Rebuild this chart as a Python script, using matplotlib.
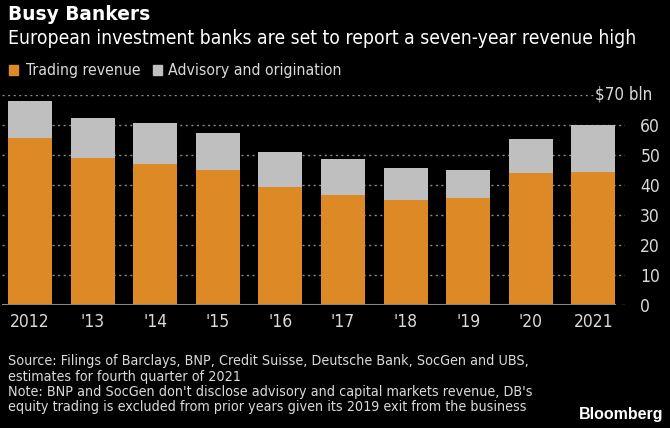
import matplotlib
matplotlib.use("Agg")
import matplotlib.pyplot as plt
from matplotlib.patches import Rectangle

years = ["2012", "'13", "'14", "'15", "'16", "'17", "'18", "'19", "'20", "2021"]
trading = [55.6, 48.9, 46.9, 45.0, 39.3, 36.6, 34.9, 35.6, 44.0, 44.4]
total = [68.1, 62.2, 60.8, 57.2, 50.9, 48.8, 45.7, 45.0, 55.4, 59.9]
advisory = [t - tr for t, tr in zip(total, trading)]
yticks = [0, 10, 20, 30, 40, 50, 60]

ORANGE = "#DD8A26"
GRAY = "#BFBFBF"
TXT = "#DADADA"
plt.rcParams["font.family"] = ["DejaVu Sans"]

W, H = 670, 428
fig = plt.figure(figsize=(W / 100, H / 100), dpi=100, facecolor="black")
ax = fig.add_axes([2 / W, 1 - 305 / H, (625 - 2) / W, (305 - 95) / H], facecolor="black")

x = list(range(len(years)))
ax.bar(x, trading, width=0.70, color=ORANGE, zorder=3)
ax.bar(x, advisory, bottom=trading, width=0.70, color=GRAY, zorder=3)

sp = 62.6
ax.set_xlim((2 - 30) / sp, (625 - 30) / sp)
ax.set_ylim(0, 70)

for v in yticks[1:]:
    ax.axhline(v, color="#8a8a8a", lw=1.0, ls=(0, (1.5, 2.5)), zorder=1)
ax.axhline(70, xmin=0, xmax=(593 - 2) / (625 - 2), color="#8a8a8a", lw=1.0, ls=(0, (1.5, 2.5)), zorder=1)
ax.axhline(0, xmin=0, xmax=(615 - 2) / (625 - 2), color="#8a8a8a", lw=1.5, zorder=4)
ax.axhline(0, xmin=(622 - 2) / (625 - 2), xmax=1, color="#8a8a8a", lw=1.0, zorder=4)

for s in ax.spines.values():
    s.set_visible(False)
ax.yaxis.tick_right()
ax.set_yticks(yticks)
ax.set_yticklabels([str(v) for v in yticks])
ax.tick_params(axis="y", length=0, pad=11, labelsize=12.5, labelcolor=TXT)
for lab in ax.get_yticklabels():
    lab.set_fontstretch("condensed")
ax.set_xticks(x)
ax.set_xticklabels(years)
ax.tick_params(axis="x", length=0, pad=6, labelsize=12.5, labelcolor=TXT)
for lab in ax.get_xticklabels():
    lab.set_fontstretch("condensed")
ax.text(1.0 + 27 / (625 - 2), 70, "$70 bln", transform=ax.get_yaxis_transform(),
        ha="right", va="center", color=TXT, fontsize=12.2, fontstretch="condensed")

fig.text(8 / W, 1 - 15 / H, "Busy Bankers", color="white", fontsize=13.4, fontweight="bold",
         ha="left", va="center")
fig.text(8 / W, 1 - 38.5 / H, "European investment banks are set to report a seven-year revenue high",
         color="white", fontsize=13.9, ha="left", va="center", fontstretch="condensed")

# legend
fig.patches.append(Rectangle((9 / W, 1 - 75 / H), 9 / W, 10 / H, transform=fig.transFigure,
                             color=ORANGE))
fig.text(26 / W, 1 - 70 / H, "Trading revenue", color=TXT, fontsize=11.3, ha="left", va="center",
         fontstretch="condensed")
fig.patches.append(Rectangle((153 / W, 1 - 75 / H), 9 / W, 10 / H, transform=fig.transFigure,
                             color=GRAY))
fig.text(168 / W, 1 - 70 / H, "Advisory and origination", color=TXT, fontsize=11.3, ha="left", va="center",
         fontstretch="condensed")

foot = ["Source: Filings of Barclays, BNP, Credit Suisse, Deutsche Bank, SocGen and UBS,",
        "estimates for fourth quarter of 2021",
        "Note: BNP and SocGen don't disclose advisory and capital markets revenue, DB's",
        "equity trading is excluded from prior years given its 2019 exit from the business"]
for i, line in enumerate(foot):
    fig.text(8 / W, 1 - (361.5 + 15.3 * i) / H, line, color=TXT, fontsize=10.3, ha="left", va="center",
             fontstretch="condensed")

fig.text(663 / W, 1 - 415 / H, "Bloomberg", color="white", fontsize=11.5, fontweight="bold",
         ha="right", va="center", family=["Liberation Sans", "DejaVu Sans"])

fig.savefig("out.png", dpi=100, facecolor="black")
